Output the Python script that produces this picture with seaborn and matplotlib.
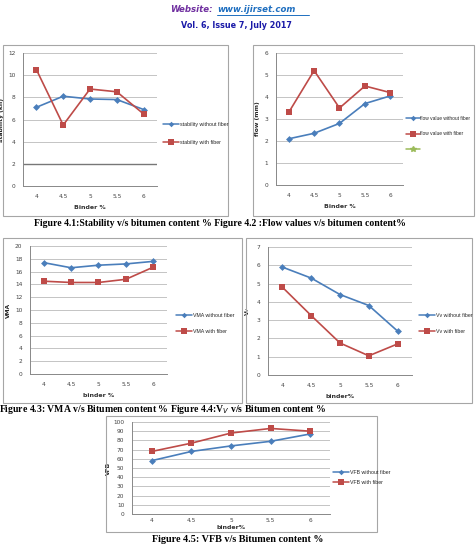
import matplotlib
matplotlib.use("Agg")
import matplotlib.pyplot as plt
from matplotlib.patches import Rectangle
from matplotlib.lines import Line2D
import seaborn as sns
import pandas as pd
import numpy as np

# ---------------- data ----------------
binder = ["4", "4.5", "5", "5.5", "6"]

stability_without = [7.1, 8.1, 7.85, 7.8, 6.9]
stability_with = [10.5, 5.5, 8.75, 8.5, 6.5]

flow_without = [2.1, 2.35, 2.8, 3.7, 4.05]
flow_with = [3.3, 5.2, 3.5, 4.5, 4.2]

vma_without = [17.4, 16.6, 17.0, 17.2, 17.6]
vma_with = [14.5, 14.3, 14.3, 14.8, 16.7]

vv_without = [5.9, 5.3, 4.4, 3.8, 2.4]
vv_with = [4.8, 3.25, 1.75, 1.05, 1.7]

vfb_without = [58, 68, 74, 79, 87]
vfb_with = [68, 77, 88, 93, 90]

captions = [
    "Figure 4.1:Stability v/s bitumen content % Figure 4.2 :Flow values v/s bitumen content%",
    "Figure 4.3: VMA v/s Bitumen content % Figure 4.4:V$_V$ v/s Bitumen content %",
    "Figure 4.5: VFB v/s Bitumen content %",
]

# ---------------- layout ----------------
W, H = 477, 545
sns.set_style("white")
plt.rcParams["font.family"] = ["DejaVu Sans"]
fig = plt.figure(figsize=(W / 100, H / 100), dpi=100)
fig.patch.set_facecolor("white")

BLUE = "#4a7ebb"
RED = "#be4b48"
GRID = "#c4c4c4"
AXC = "#888888"
NARROW = ["Liberation Sans Narrow", "Liberation Sans", "DejaVu Sans"]


def fx(x):
    return x / W


def fy(y):
    return 1 - y / H


def frame(x0, y0, x1, y1):
    fig.add_artist(Rectangle((fx(x0), fy(y1)), fx(x1 - x0), (y1 - y0) / H,
                             transform=fig.transFigure, fill=False,
                             edgecolor="#a6a6a6", lw=0.8))


def panel(box, without, with_, names, ymax, ystep, ylabel, xlabel, leg_xy,
          leg_gap, extra=False, dark2=False, xpad=6, lpad=4, ylpad=3,
          leg_size=3.8, hlen=3.0):
    l, t, r, b = box
    ax = fig.add_axes([fx(l), fy(b), fx(r - l), (b - t) / H])
    df = pd.DataFrame({
        "pos": list(range(len(binder))) * 2,
        "value": list(without) + list(with_),
        "series": [names[0]] * len(binder) + [names[1]] * len(binder),
    })
    sns.lineplot(data=df, x="pos", y="value", hue="series", style="series",
                 palette={names[0]: BLUE, names[1]: RED},
                 markers={names[0]: "D", names[1]: "s"}, dashes=False,
                 linewidth=1.2, markersize=3.5, markeredgewidth=0,
                 legend=False, ax=ax, sort=False)
    for ln in ax.lines:
        ln.set_zorder(3)
        if ln.get_marker() == "s":
            ln.set_markersize(5)
    ax.set_xlim(-0.5, len(binder) - 0.5)
    ax.set_ylim(0, ymax)
    yt = np.arange(0, ymax + 0.01, ystep)
    ax.set_yticks(yt)
    ax.set_yticklabels([f"{v:g}" for v in yt])
    ax.set_xticks(range(len(binder)))
    ax.set_xticklabels(binder)
    ax.set_xticks(np.arange(-0.5, len(binder), 1.0), minor=True)
    ax.tick_params(axis="x", which="major", length=0, labelsize=4.2,
                   colors="#444444", pad=xpad)
    ax.tick_params(axis="x", which="minor", length=2.5, color=AXC, width=0.6)
    ax.tick_params(axis="y", length=2.5, color=AXC, width=0.6, labelsize=4.2,
                   labelcolor="#444444", pad=3)
    ax.grid(axis="y", color=GRID, lw=0.7)
    ax.set_axisbelow(True)
    if dark2:
        ax.axhline(2, color="#777777", lw=1.0, zorder=1)
    for s in ["top", "right"]:
        ax.spines[s].set_visible(False)
    for s in ["left", "bottom"]:
        ax.spines[s].set_color(AXC)
        ax.spines[s].set_linewidth(0.7)
    ax.set_ylabel(ylabel, fontsize=4.3, fontweight="bold", labelpad=ylpad)
    ax.set_xlabel(xlabel, fontsize=4.5, fontweight="bold", color="#333333",
                  labelpad=lpad)
    ax.set_facecolor("white")
    handles = [
        Line2D([], [], color=BLUE, marker="D", markersize=2.8, lw=1.1,
               markeredgewidth=0, label=names[0]),
        Line2D([], [], color=RED, marker="s", markersize=4, lw=1.1,
               markeredgewidth=0, label=names[1]),
    ]
    if extra:
        handles.append(Line2D([], [], color="#9bbb59", marker="*",
                              markersize=4, lw=1.1, label=" "))
    fig.legend(handles=handles, loc="upper left",
               bbox_to_anchor=(fx(leg_xy[0]), fy(leg_xy[1])),
               bbox_transform=fig.transFigure, frameon=False,
               prop={"family": NARROW, "size": leg_size},
               handlelength=hlen, handletextpad=0.15, borderpad=0,
               borderaxespad=0, labelspacing=leg_gap)
    return ax


# header
fig.text(fx(213), fy(10), "Website:", color="#7030a0", fontsize=6.2,
         fontweight="bold", fontstyle="italic", ha="right", va="center")
fig.text(fx(217), fy(10), "www.ijirset.com", color="#1f6fc0", fontsize=6.2,
         fontweight="bold", fontstyle="italic", ha="left", va="center")
fig.add_artist(Line2D([fx(217), fx(309)], [fy(15), fy(15)],
                      transform=fig.transFigure, color="#1f6fc0", lw=0.7))
fig.text(fx(236), fy(26), "Vol. 6, Issue 7, July 2017", color="#1a1aa8",
         fontsize=5.8, fontweight="bold", ha="center", va="center")

# frames
frame(3, 45, 228, 216)
frame(253, 45, 474, 216)
frame(3, 238, 242, 403)
frame(246, 238, 472, 403)
frame(106, 416, 377, 532)

panel((23, 53, 157, 186), stability_without, stability_with,
      ["stability without fiber", "stability with fiber"], 12, 2,
      "stability (kn)", "Binder %", (163, 122), 2.4, dark2=True)
panel((276, 53, 403, 185), flow_without, flow_with,
      ["flow value without fiber", "flow value with fiber"], 6, 1,
      "flow (mm)", "Binder %", (406, 116), 2.1, extra=True,
      leg_size=3.5, hlen=2.8)
panel((30, 246, 167, 374), vma_without, vma_with,
      ["VMA without fiber", "VMA with fiber"], 20, 2,
      "VMA", "binder %", (176, 313), 2.0)
panel((268, 247, 412, 375), vv_without, vv_with,
      ["Vv without fiber", "Vv with fiber"], 7, 1,
      "V$_V$", "binder%", (419, 313), 2.0)
panel((132, 422, 330, 514), vfb_without, vfb_with,
      ["VFB without fiber", "VFB with fiber"], 100, 10,
      "VFB", "binder%", (333, 470), 0.9, xpad=3, lpad=1.5, ylpad=1.5)

# captions
cap_font = dict(family=["Liberation Serif", "DejaVu Serif"], fontweight="bold",
                color="black", va="center")
fig.text(fx(220), fy(223), captions[0], fontsize=7.0, ha="center", **cap_font)
fig.text(fx(163), fy(410), captions[1], fontsize=7.0, ha="center", **cap_font)
fig.text(fx(238), fy(539), captions[2], fontsize=7.3, ha="center", **cap_font)

fig.savefig("out.png", dpi=100, facecolor="white")
